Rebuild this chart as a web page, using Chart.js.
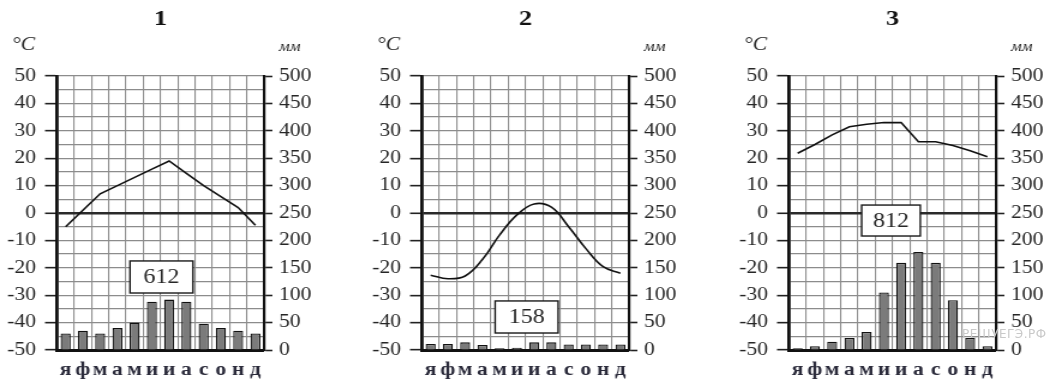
<!DOCTYPE html>
<html>
<head>
<meta charset="utf-8">
<script src="https://cdn.jsdelivr.net/npm/chart.js@4.4.1/dist/chart.umd.min.js"></script>
<style>
  html, body { margin: 0; padding: 0; background: #fff; width: 1058px; height: 381px; overflow: hidden; }
  .panel { position: absolute; top: 0; transform: scaleX(1.2); transform-origin: 0 0; }
  #wm { position: absolute; left: 962px; top: 327px; font: 12px 'DejaVu Sans', sans-serif; color: #c9c9c9; letter-spacing: 0.5px; }
</style>
</head>
<body>
<div class="panel" style="left:0px"><canvas id="c1" width="283" height="381"></canvas></div>
<div class="panel" style="left:365px"><canvas id="c2" width="283" height="381"></canvas></div>
<div class="panel" style="left:732px"><canvas id="c3" width="283" height="381"></canvas></div>
<div id="wm">РЕШУЕГЭ.РФ</div>
<script>
// ---- data ----
const months = ['я', 'ф', 'м', 'а', 'м', 'и', 'и', 'а', 'с', 'о', 'н', 'д'];
const titles = ['1', '2', '3'];
const totals = [612, 158, 812];
const temp1 = [-5, 1, 7, 10, 13, 16, 19, 14.5, 10, 6, 2, -4.5];
const precip1 = [30, 35, 30, 40, 50, 88, 92, 88, 48, 40, 35, 30];
const temp2 = [-22.7, -24, -23, -17, -8, -0.7, 3.3, 2.1, -5, -13, -19.6, -22];
const precip2 = [11, 11, 14, 9, 3, 4, 14, 14, 10, 10, 10, 10];
const temp3 = [21.8, 25, 28.5, 31.5, 32.4, 33, 33, 26, 26, 24.6, 22.7, 20.5];
const precip3 = [3, 7, 15, 22, 33, 105, 159, 179, 159, 91, 22, 7];
const tempRange = [-50, 50];
const precipRange = [0, 500];
const tempLabelStep = 10;
const precipLabelStep = 50;
const tempUnit = '°C';
const precipUnit = 'мм';

// ---- layout / style (not data) ----
const boxes = [
  { from: 3.73, to: 7.38, top: -17.5, bottom: -29.2 },
  { from: 3.74, to: 7.39, top: -32.1, bottom: -43.8 },
  { from: 3.71, to: 7.11, top: 2.9, bottom: -8.4 }
];
const tensions = [0, 0.4, 0];
const SERIF = "'Liberation Serif', 'Times New Roman', serif";
const TXT = '#262626';

const decor = {
  id: 'decor',
  afterDatasetsDraw(chart, args, opts) {
    const { ctx, chartArea, scales } = chart;
    const x = scales.x, y = scales.y;
    const b = opts.box;
    const x0 = x.getPixelForValue(b.from), x1 = x.getPixelForValue(b.to);
    const y0 = y.getPixelForValue(b.top), y1 = y.getPixelForValue(b.bottom);
    ctx.save();
    ctx.fillStyle = '#fff';
    ctx.fillRect(x0, y0, x1 - x0, y1 - y0);
    ctx.strokeStyle = '#1a1a1a';
    ctx.lineWidth = 1.4;
    ctx.strokeRect(x0, y0, x1 - x0, y1 - y0);
    ctx.fillStyle = TXT;
    ctx.font = '20px ' + SERIF;
    ctx.textAlign = 'center';
    ctx.textBaseline = 'middle';
    ctx.fillText(String(opts.total), (x0 + x1) / 2, (y0 + y1) / 2 + 1);
    ctx.restore();
  },
  afterDraw(chart, args, opts) {
    const { ctx, chartArea } = chart;
    ctx.save();
    ctx.fillStyle = '#111';
    ctx.font = 'bold 22px ' + SERIF;
    ctx.textAlign = 'center';
    ctx.textBaseline = 'middle';
    ctx.fillText(opts.title, (chartArea.left + chartArea.right) / 2, 19);
    ctx.fillStyle = TXT;
    ctx.font = 'italic 18px ' + SERIF;
    ctx.textAlign = 'left';
    ctx.fillText(tempUnit, chartArea.left - 37.5, 45);
    ctx.font = 'italic 14px ' + SERIF;
    ctx.fillText(precipUnit, chartArea.right + 12.5, 47);
    ctx.restore();
  }
};

function make(id, idx, temps, precs) {
  const ctx = document.getElementById(id);
  return new Chart(ctx, {
    data: {
      labels: months,
      datasets: [
        {
          type: 'line', data: temps, yAxisID: 'y', borderColor: '#111', borderWidth: 1.6,
          pointRadius: 0, tension: tensions[idx], fill: false, order: 0
        },
        {
          type: 'bar', data: precs, yAxisID: 'y2', backgroundColor: '#7b7b7b', borderColor: '#111',
          borderWidth: 1.3, barPercentage: 0.58, categoryPercentage: 1, order: 1
        }
      ]
    },
    options: {
      responsive: false,
      animation: false,
      events: [],
      layout: { padding: { top: 76, bottom: 0, left: 0, right: 0 } },
      plugins: {
        legend: { display: false },
        tooltip: { enabled: false },
        decor: { box: boxes[idx], total: totals[idx], title: titles[idx] }
      },
      scales: {
        x: {
          type: 'category', offset: true,
          grid: { offset: true, color: '#8c8c8c', lineWidth: 1.1, drawTicks: false },
          border: { display: true, color: '#111', width: 3 },
          ticks: { color: '#2a2a3a', font: { family: SERIF, size: 18, weight: 'bold' }, padding: 10, autoSkip: false, maxRotation: 0 },
          afterFit: s => { s.height = 31; }
        },
        y: {
          position: 'left', min: tempRange[0], max: tempRange[1],
          grid: {
            color: c => (c.tick && c.tick.value === 0) ? '#2a2a2a' : '#8c8c8c',
            lineWidth: c => (c.tick && c.tick.value === 0) ? 2.6 : 1.3,
            tickLength: 10,
            tickColor: c => (c.tick && c.tick.value % tempLabelStep === 0) ? '#222' : 'rgba(0,0,0,0)',
            tickWidth: 1.6
          },
          border: { display: true, color: '#111', width: 2.8 },
          ticks: {
            stepSize: 5, autoSkip: false, padding: 7.5, color: TXT,
            font: { family: SERIF, size: 18 },
            callback: v => (v % tempLabelStep === 0 ? String(v) : '')
          },
          afterFit: s => { s.width = 47.5; }
        },
        y2: {
          position: 'right', min: precipRange[0], max: precipRange[1],
          grid: {
            drawOnChartArea: false, tickLength: 7,
            tickColor: c => (c.tick && c.tick.value % precipLabelStep === 0) ? '#222' : 'rgba(0,0,0,0)',
            tickWidth: 1.6
          },
          border: { display: true, color: '#111', width: 2.2 },
          ticks: {
            stepSize: 25, autoSkip: false, padding: 5.5, color: TXT,
            font: { family: SERIF, size: 18 },
            callback: v => (v % precipLabelStep === 0 ? String(v) : '')
          },
          afterFit: s => { s.width = 63; }
        }
      }
    },
    plugins: [decor]
  });
}

make('c1', 0, temp1, precip1);
make('c2', 1, temp2, precip2);
make('c3', 2, temp3, precip3);
</script>
</body>
</html>
